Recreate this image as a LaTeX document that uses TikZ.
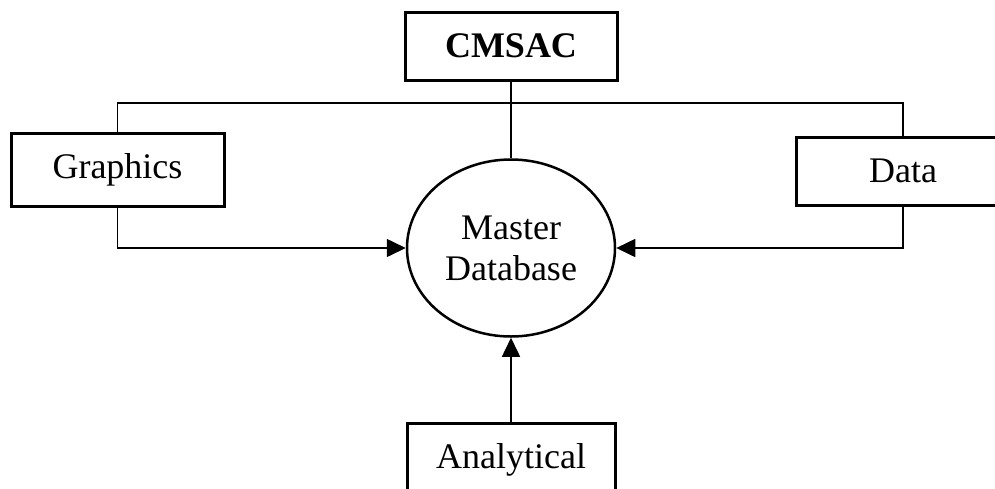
\documentclass[tikz,border=0pt]{standalone}
\usepackage{fontspec}
\setmainfont{Liberation Serif}
\usetikzlibrary{arrows.meta,shapes.geometric}
\begin{document}
\begin{tikzpicture}[x=1pt,y=-1pt,
  boxnode/.style={draw,line width=3pt,inner sep=0pt,font=\fontsize{36}{41}\selectfont},
  conn/.style={line width=1.6pt},
  arr/.style={conn,-{Triangle[length=19pt,width=18pt]}},
  ellnode/.style={draw,ellipse,line width=2.5pt,inner sep=0pt,minimum width=208pt,minimum height=177pt,align=center,font=\fontsize{36}{41}\selectfont}]
\useasboundingbox (0,0) rectangle (995,488);
\node[boxnode,minimum width=212pt,minimum height=68pt,font=\fontsize{36}{41}\selectfont\bfseries] (C) at (511,46) {CMSAC};
\node[boxnode,minimum width=213pt,minimum height=73pt] (G) at (117.5,169.5) {Graphics};
\node[boxnode,minimum width=214pt,minimum height=68pt] (D) at (903,171) {Data};
\node[boxnode,minimum width=208pt,minimum height=73pt] (A) at (511,459.5) {Analytical};
\node[ellnode] (M) at (511,248) {Master\\Database};
\coordinate (bus) at (511,103);
\draw[conn] (G.north) |- (bus) -| (D.north);
\draw[conn] (C.south) -- (M.north);
\draw[arr] (G.south) |- (M.west);
\draw[arr] (D.south) |- (M.east);
\draw[arr] (A.north) -- (M.south);
\end{tikzpicture}
\end{document}
